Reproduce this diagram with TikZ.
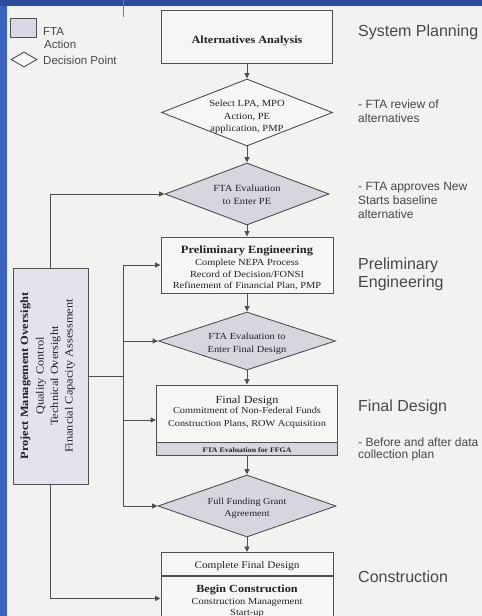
\documentclass[tikz,border=0pt]{standalone}
\usepackage{fontspec}
\setmainfont{Liberation Serif}
\newfontfamily\sansf{Liberation Sans}
\newfontfamily\serw[FakeStretch=1.12]{Liberation Serif}
\usetikzlibrary{shapes.geometric,arrows.meta}
\newcommand\fsz[1]{\fontsize{#1pt}{#1pt}\selectfont}
\definecolor{bgc}{HTML}{F2F2F0}
\definecolor{boxfill}{HTML}{F6F6F4}
\definecolor{grayfill}{HTML}{D6D6DF}
\definecolor{pmofill}{HTML}{E3E3EC}
\definecolor{legfill}{HTML}{D9D9E6}
\definecolor{lnc}{HTML}{505050}
\definecolor{bluestripe}{HTML}{3B62C0}
\definecolor{blueband}{HTML}{2C4C9E}
\definecolor{tealc}{HTML}{1FA3A3}
\definecolor{labc}{HTML}{474747}
\definecolor{txtc}{HTML}{222222}
\begin{document}
\begin{tikzpicture}[x=1pt,y=-1pt,
  bx/.style={draw=lnc, line width=0.9pt, fill=boxfill, inner sep=0pt},
  dia/.style={diamond, draw=lnc, line width=0.9pt, inner sep=0pt},
  arr/.style={draw=lnc, line width=0.9pt, -{Triangle[length=5.5pt,width=5pt]}},
  wire/.style={draw=lnc, line width=0.9pt},
  tx/.style={anchor=base, inner sep=0pt, text=txtc},
  rl/.style={anchor=base west, inner sep=0pt, text=labc, font=\sansf\fsz{12}},
  rh/.style={anchor=base west, inner sep=0pt, text=labc, font=\sansf\fsz{16}},
  lg/.style={anchor=base west, inner sep=0pt, text=labc, font=\sansf\fsz{11.5}},
]
\useasboundingbox (0,0) rectangle (482,616);
\clip (0,0) rectangle (482,616);
% background and frame
\fill[bgc] (0,0) rectangle (482,616);
\fill[bluestripe] (0,0) rectangle (7,616);
\fill[blueband] (0,0) rectangle (482,6);
\draw[tealc, line width=1.5pt] (123.5,0) -- (123.5,17);

% legend
\node[bx, fill=legfill, minimum width=26pt, minimum height=19pt] (lgr) at (23,27.5) {};
\node[dia, fill=boxfill, minimum width=26pt, minimum height=15pt] (lgd) at (24,59.5) {};
\node[lg] (lg1) at (43,35) {FTA};
\node[lg] (lg2) at (44,48) {Action};
\node[lg] (lg3) at (43,64) {Decision Point};

% main column
\node[bx, minimum width=171pt, minimum height=53pt] (aa) at (247,36.5) {};
\node[tx, font=\serw\bfseries\fsz{10.9}] (aat) at (247,43) {Alternatives Analysis};

\node[dia, fill=boxfill, minimum width=171pt, minimum height=67pt] (d1) at (247,112.5) {};
\node[tx, font=\serw\fsz{9.4}] (d1a) at (247,106) {Select LPA, MPO};
\node[tx, font=\serw\fsz{9.4}] (d1b) at (247,119) {Action, PE};
\node[tx, font=\serw\fsz{9.4}] (d1c) at (247,131) {application, PMP};

\node[dia, fill=grayfill, minimum width=164pt, minimum height=62pt] (d2) at (247,194) {};
\node[tx, font=\serw\fsz{9.4}] (d2a) at (247,191) {FTA Evaluation};
\node[tx, font=\serw\fsz{9.4}] (d2b) at (247,204) {to Enter PE};

\node[bx, minimum width=172pt, minimum height=56pt] (pe) at (247,265) {};
\node[tx, font=\serw\bfseries\fsz{11.1}] (pea) at (247,253) {Preliminary Engineering};
\node[tx, font=\serw\fsz{9.3}] (peb) at (247,265) {Complete NEPA Process};
\node[tx, font=\serw\fsz{9.3}] (pec) at (247,277) {Record of Decision/FONSI};
\node[tx, font=\serw\fsz{9.3}] (ped) at (247,288.5) {Refinement of Financial Plan, PMP};

\node[dia, fill=grayfill, minimum width=177pt, minimum height=58pt] (d3) at (247,341) {};
\node[tx, font=\serw\fsz{9.3}] (d3a) at (247,339) {FTA Evaluation to};
\node[tx, font=\serw\fsz{9.3}] (d3b) at (247,352) {Enter Final Design};

\node[bx, minimum width=181pt, minimum height=70pt] (fd) at (247,420) {};
\node[bx, fill=grayfill, minimum width=181pt, minimum height=13pt, anchor=south] (fdb) at (fd.south) {};
\node[tx, font=\serw\fsz{10.9}] (fda) at (247,403) {Final Design};
\node[tx, font=\serw\fsz{9.2}] (fdc) at (247,413.5) {Commitment of Non-Federal Funds};
\node[tx, font=\serw\fsz{9.2}] (fdd) at (247,426) {Construction Plans, ROW Acquisition};
\node[tx, font=\serw\bfseries\fsz{7}] (fde) at (247,452) {FTA Evaluation for FFGA};

\node[dia, fill=grayfill, minimum width=178pt, minimum height=62pt] (d4) at (247,506) {};
\node[tx, font=\serw\fsz{9.1}] (d4a) at (247,504) {Full Funding Grant};
\node[tx, font=\serw\fsz{9.1}] (d4b) at (247,516) {Agreement};

\node[bx, minimum width=172pt, minimum height=23pt, anchor=north] (cbt) at (247,552) {};
\node[bx, minimum width=172pt, minimum height=44pt, anchor=north] (cb) at (cbt.south) {};
\node[tx, font=\serw\fsz{10.1}] (cba) at (247,568) {Complete Final Design};
\node[tx, font=\serw\bfseries\fsz{10.9}] (cbb) at (247,592) {Begin Construction};
\node[tx, font=\serw\fsz{9.3}] (cbc) at (247,604) {Construction Management};
\node[tx, font=\serw\fsz{9.3}] (cbd) at (247,615.5) {Start-up};

% oversight box
\node[bx, fill=pmofill, minimum width=75pt, minimum height=216pt] (pmo) at (50.5,376) {};
\node[tx, rotate=90, font=\serw\bfseries\fsz{11.1}] (pm1) at (28,376) {Project Management Oversight};
\node[tx, rotate=90, font=\serw\fsz{11}] (pm2) at (43.5,376) {Quality Control};
\node[tx, rotate=90, font=\serw\fsz{11}] (pm3) at (58,376) {Technical Oversight};
\node[tx, rotate=90, font=\serw\fsz{11}] (pm4) at (72.5,376) {Financial Capacity Assessment};

% main flow connectors
\draw[arr] (aa.south) -- (d1.north);
\draw[arr] (d1.south) -- (d2.north);
\draw[arr] (d2.south) -- (pe.north);
\draw[arr] (pe.south) -- (d3.north);
\draw[arr] (d3.south) -- (fd.north);
\draw[arr] (fdb.south) -- (d4.north);
\draw[arr] (d4.south) -- (cbt.north);

% oversight connectors
\coordinate (bus) at (123,376);
\draw[arr] (pmo.north) |- (d2.west);
\draw[arr] (pmo.south) |- (cb.west);
\draw[wire] (pmo.east) -- (bus);
\draw[wire] (bus |- pe.west) -- (bus |- d4.west);
\draw[arr] (bus |- pe.west) -- (pe.west);
\draw[arr] (bus |- d3.west) -- (d3.west);
\draw[arr] (bus |- fd.west) -- (fd.west);
\draw[arr] (bus |- d4.west) -- (d4.west);

% right-hand labels
\node[rh] (r1) at (358,36) {System Planning};
\node[rl] (r2) at (358,108) {- FTA review of};
\node[rl] (r3) at (358,122) {alternatives};
\node[rl] (r4) at (358,190) {- FTA approves New};
\node[rl] (r5) at (358,204) {Starts baseline};
\node[rl] (r6) at (358,218) {alternative};
\node[rh] (r7) at (358,269) {Preliminary};
\node[rh] (r8) at (358,287) {Engineering};
\node[rh] (r9) at (358,411) {Final Design};
\node[rl] (r10) at (358,446) {- Before and after data};
\node[rl] (r11) at (358,458.5) {collection plan};
\node[rh] (r12) at (358,582) {Construction};
\end{tikzpicture}
\end{document}
